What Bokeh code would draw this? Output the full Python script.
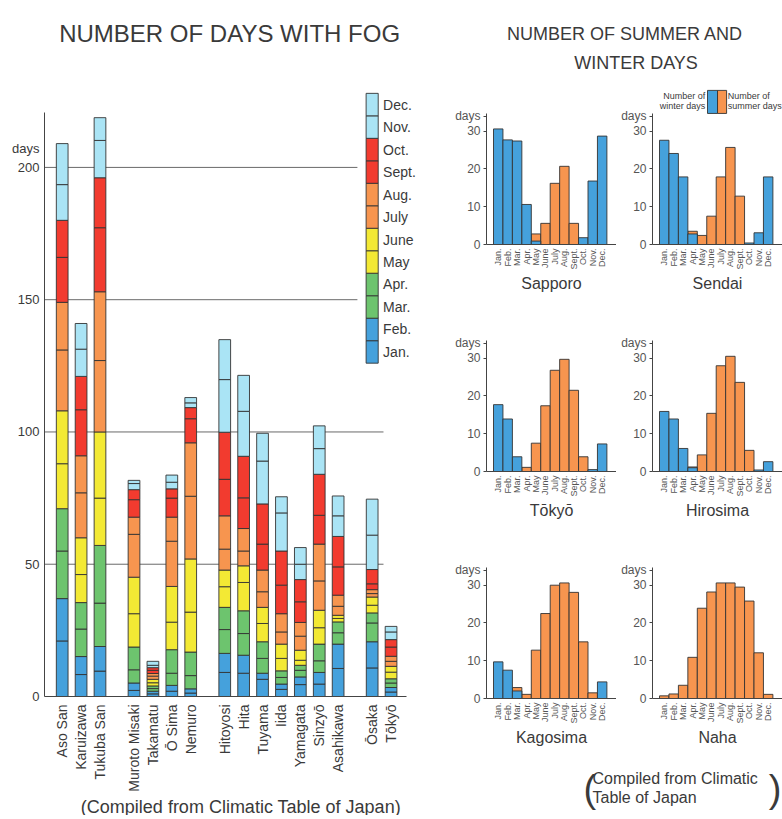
import numpy as np
from bokeh.plotting import figure
from bokeh.models import ColumnDataSource, FixedTicker, Range1d
from bokeh.layouts import row, column
from bokeh.embed import file_html
from bokeh.resources import INLINE
from bokeh.core.properties import value

FONT = "Liberation Sans"
TXT = "#3a3a3a"

# ---------------- data: fog days ----------------
stations = ["Aso San", "Karuizawa", "Tukuba San", "Muroto Misaki", "Takamatu", "Ō Sima",
            "Nemuro", "Hitoyosi", "Hita", "Tuyama", "Iida", "Yamagata", "Sinzyō",
            "Asahikawa", "Ōsaka", "Tōkyō"]
station_group = [0, 0, 0, 1, 1, 1, 1, 2, 2, 2, 2, 2, 2, 2, 3, 3]
month_labels = ["Jan.", "Feb.", "Mar.", "Apr.", "May", "June", "July", "Aug.", "Sept.",
                "Oct.", "Nov.", "Dec."]

fog_jan = [21, 8.3, 9.6, 2.3, 1, 2, 1.3, 9.1, 8.8, 6.5, 2.7, 4.5, 4.7, 10.6, 10.8, 1.7]
fog_feb = [16, 6.8, 9.3, 2.8, 1, 2.2, 1.6, 7.2, 6.8, 2.3, 2, 2.9, 4.4, 9.2, 9.9, 1.7]
fog_mar = [18, 10.4, 16.4, 5, 1, 4.6, 5, 9, 8.2, 5.6, 2.5, 2.5, 4.4, 4.3, 7.1, 1.7]
fog_apr = [16, 10, 21.8, 8.6, 1, 8.9, 8.9, 8.4, 8.6, 6.3, 2.5, 1.9, 6.3, 4.1, 3.8, 1.6]
fog_may = [17, 10.6, 17.9, 12.6, 1.2, 10.4, 15.1, 7.8, 10.7, 6.9, 4.7, 1.9, 6.2, 1.3, 2.9, 2.5]
fog_jun = [20, 13.9, 25, 13.8, 1.3, 13.5, 20.1, 6.3, 6.3, 6.1, 5.4, 3.8, 6.6, 1.2, 3.1, 2.2]
fog_jul = [23, 17, 27, 16.2, 1.2, 17.1, 23.7, 7.9, 5.6, 5.9, 4.6, 5.3, 11.1, 3.4, 1.3, 1.9]
fog_aug = [18, 14, 26, 6.5, 1, 9.1, 20.2, 12.6, 8.5, 8.2, 6.9, 5.2, 13.9, 4.2, 1.5, 1.9]
fog_sep = [17, 17.4, 24.2, 6.6, 1.2, 7.2, 9.1, 13.8, 11.6, 9.8, 10.8, 7.8, 10.9, 10.7, 2.2, 3.5]
fog_oct = [14, 12.6, 18.9, 3.8, 1, 3.5, 4.2, 17.8, 15.7, 15.2, 12.9, 8.4, 15.5, 11.5, 5.4, 2.8]
fog_nov = [13.5, 10.3, 14.1, 2.3, 0.9, 2.5, 1.8, 19.9, 17, 16.2, 14.4, 5.8, 9.7, 7.8, 13, 2.9]
fog_dec = [15.5, 9.7, 8.6, 1.2, 1.5, 2.7, 2, 15.1, 13.6, 10.5, 6.1, 6.3, 8.6, 7.5, 13.6, 2.1]
fog_ticks = [0, 50, 100, 150, 200]
fog_unit_pos = 207  # where the "days" unit label sits on the axis

# ---------------- data: summer / winter days ----------------
sapporo_winter = [30.6, 27.7, 27.4, 10.6, 0.9, 0, 0, 0, 0, 1.8, 16.8, 28.7]
sapporo_summer = [0, 0, 0, 0, 2.8, 5.6, 16.2, 20.7, 5.6, 0, 0, 0]
sendai_winter = [27.6, 24.1, 17.9, 2.8, 0, 0, 0, 0, 0, 0.4, 3.1, 17.9]
sendai_summer = [0, 0, 0, 3.5, 2.4, 7.5, 17.9, 25.7, 12.8, 0, 0, 0]
tokyo_winter = [17.7, 13.9, 3.9, 0, 0, 0, 0, 0, 0, 0, 0.5, 7.3]
tokyo_summer = [0, 0, 0, 1.1, 7.5, 17.4, 26.8, 29.7, 21.5, 3.9, 0, 0]
hirosima_winter = [15.9, 13.9, 6.1, 1.0, 0, 0, 0, 0, 0, 0, 0.4, 2.6]
hirosima_summer = [0, 0, 0, 1.2, 4.4, 15.4, 28, 30.5, 23.6, 5.6, 0, 0]
kagosima_winter = [9.7, 7.5, 2.0, 0, 0, 0, 0, 0, 0, 0, 0, 4.4]
kagosima_summer = [0, 0, 2.9, 1.1, 12.8, 22.5, 30, 30.6, 28.1, 15, 1.5, 0]
naha_winter = [0, 0, 0, 0, 0, 0, 0, 0, 0, 0, 0, 0]
naha_summer = [0.7, 1.2, 3.5, 10.9, 23.9, 28.2, 30.6, 30.6, 29.5, 25.8, 12.1, 1.1]
sw_ticks = [0, 10, 20, 30]
sw_unit_pos = 34

# ---------------- styles ----------------
C_BLUE = "#45a1dc"
C_GREEN = "#6dc46e"
C_YELLOW = "#f3e934"
C_ORANGE = "#f7954f"
C_RED = "#f23b2f"
C_LBLUE = "#aae4f5"
fog_colors = [C_BLUE, C_BLUE, C_GREEN, C_GREEN, C_YELLOW, C_YELLOW,
              C_ORANGE, C_ORANGE, C_RED, C_RED, C_LBLUE, C_LBLUE]
EDGE = "#333333"


def clean(p):
    p.outline_line_color = None
    p.grid.visible = False
    p.background_fill_color = "white"
    p.border_fill_color = "white"


def text_fig(w, h):
    f = figure(width=w, height=h, x_range=Range1d(0, w), y_range=Range1d(h, 0),
               min_border=0, toolbar_location=None, output_backend="svg")
    clean(f)
    f.axis.visible = False
    return f


# ---------------- left chart ----------------
fog_months = [fog_jan, fog_feb, fog_mar, fog_apr, fog_may, fog_jun,
              fog_jul, fog_aug, fog_sep, fog_oct, fog_nov, fog_dec]
keys = ["m%d" % i for i in range(12)]
xpos = [5 * i + 4 * g for i, g in enumerate(station_group)]
src = ColumnDataSource(dict(x=xpos, **{k: v for k, v in zip(keys, fog_months)}))

lt = text_fig(440, 60)
lt.text(x=[228], y=[33], text=["NUMBER  OF  DAYS  WITH  FOG"], text_font=value(FONT),
        text_font_size="24px", text_color=TXT, text_align="center", text_baseline="middle")

p = figure(width=440, height=736, x_range=Range1d(-4.68, 96.64), y_range=Range1d(0, 232.1),
           min_border_left=44, min_border_right=13, min_border_top=22, min_border_bottom=100,
           toolbar_location=None, output_backend="svg")
clean(p)

grid_y = fog_ticks[1:]
grid_end = [85, 85, 78.1, 78.1]
p.segment(x0=[-4.68] * len(grid_y), y0=grid_y, x1=grid_end, y1=grid_y,
          line_color="#6a6a6a", line_width=1)

p.vbar_stack(keys, x="x", width=3.1, fill_color=fog_colors, line_color=EDGE,
             line_width=0.9, source=src)

# legend column
cell = 8.5
leg_top = 228
n = len(month_labels)
leg_bottoms = [leg_top - cell * (n - i) for i in range(n)]
p.quad(left=80.4, right=83.6, bottom=leg_bottoms, top=[b + cell for b in leg_bottoms],
       fill_color=fog_colors, line_color=EDGE, line_width=0.9)
p.text(x=[84.9] * n, y=[b + cell / 2 for b in leg_bottoms], text=month_labels,
       text_font=value(FONT), text_font_size="14px", text_color=TXT,
       text_baseline="middle", text_align="left")

p.yaxis.ticker = FixedTicker(ticks=fog_ticks + [fog_unit_pos])
p.yaxis.major_label_overrides = {fog_unit_pos: "days"}
p.yaxis.bounds = (0, 220.8)
p.yaxis.major_tick_out = 0
p.yaxis.major_tick_in = 0
p.yaxis.minor_tick_out = 0
p.yaxis.minor_tick_in = 0
p.yaxis.major_label_standoff = 5
p.yaxis.major_label_text_font = FONT
p.yaxis.major_label_text_font_size = "13px"
p.yaxis.major_label_text_color = TXT
p.yaxis.axis_line_color = "#444444"

p.xaxis.ticker = FixedTicker(ticks=xpos)
p.xaxis.major_label_overrides = {x: s for x, s in zip(xpos, stations)}
p.xaxis.major_label_orientation = np.pi / 2
p.xaxis.bounds = (-4.68, 91.1)
p.xaxis.major_tick_out = 0
p.xaxis.major_tick_in = 0
p.xaxis.minor_tick_out = 0
p.xaxis.minor_tick_in = 0
p.xaxis.major_label_standoff = 8
p.xaxis.major_label_text_font = FONT
p.xaxis.major_label_text_font_size = "14px"
p.xaxis.major_label_text_color = TXT
p.xaxis.axis_line_color = "#444444"

lc = text_fig(440, 19)
lc.text(x=[240], y=[10], text=["(Compiled  from  Climatic  Table  of  Japan)"],
        text_font=value(FONT), text_font_size="18px", text_color=TXT,
        text_align="center", text_baseline="middle")

left = column(lt, p, lc)

# ---------------- small charts ----------------
KX = 9.45
KY = 3.777
mnum = list(range(1, 13))


def small(name, winter, summer, col, legend=False):
    w = 176 if col == 0 else 166
    mbl = 46 if col == 0 else 36
    fw = w - mbl
    x0 = 0.5 - 7 / KX
    f = figure(width=w, height=227, x_range=Range1d(x0, x0 + fw / KX),
               y_range=Range1d(0, 159 / KY), min_border_left=mbl, min_border_right=0,
               min_border_top=2, min_border_bottom=66, toolbar_location=None,
               output_backend="svg")
    clean(f)
    sx = [m for m, v in zip(mnum, summer) if v > 0]
    sv = [v for v in summer if v > 0]
    wx = [m for m, v in zip(mnum, winter) if v > 0]
    wv = [v for v in winter if v > 0]
    f.vbar(x=sx, top=sv, width=1, fill_color=C_ORANGE, line_color=EDGE, line_width=0.9)
    f.vbar(x=wx, top=wv, width=1, fill_color=C_BLUE, line_color=EDGE, line_width=0.9)

    f.yaxis.ticker = FixedTicker(ticks=sw_ticks + [sw_unit_pos])
    f.yaxis.major_label_overrides = {sw_unit_pos: "days"}
    f.yaxis.bounds = (0, 34.76)
    f.yaxis.major_tick_out = 3
    f.yaxis.major_tick_in = 0
    f.yaxis.minor_tick_out = 0
    f.yaxis.minor_tick_in = 0
    f.yaxis.major_label_standoff = 3
    f.yaxis.major_label_text_font = FONT
    f.yaxis.major_label_text_font_size = "12px"
    f.yaxis.major_label_text_color = "#555555"
    f.yaxis.axis_line_color = "#444444"
    f.yaxis.major_tick_line_color = "#444444"

    f.xaxis.ticker = FixedTicker(ticks=mnum)
    f.xaxis.major_label_overrides = {m: s for m, s in zip(mnum, month_labels)}
    f.xaxis.major_label_orientation = np.pi / 2
    f.xaxis.major_tick_out = 0
    f.xaxis.major_tick_in = 0
    f.xaxis.minor_tick_out = 0
    f.xaxis.minor_tick_in = 0
    f.xaxis.major_label_standoff = 4
    f.xaxis.major_label_text_font = FONT
    f.xaxis.major_label_text_font_size = "9px"
    f.xaxis.major_label_text_color = "#555555"
    f.xaxis.axis_line_color = "#444444"
    f.xaxis.axis_label = name
    f.xaxis.axis_label_standoff = 2
    f.xaxis.axis_label_text_font = FONT
    f.xaxis.axis_label_text_font_size = "16px"
    f.xaxis.axis_label_text_font_style = "normal"
    f.xaxis.axis_label_text_color = TXT

    if legend:
        f.quad(left=[5.58, 6.64], right=[6.64, 7.6], bottom=[34.7, 34.7], top=[40.8, 40.8],
               fill_color=[C_BLUE, C_ORANGE], line_color=EDGE, line_width=0.9)
        f.text(x=[5.35, 5.35], y=[39.4, 36.8], text=["Number of", "winter days"],
               text_font=value(FONT), text_font_size="9px", text_color=TXT,
               text_align="right", text_baseline="middle")
        f.text(x=[7.72, 7.72], y=[39.4, 36.8], text=["Number of", "summer days"],
               text_font=value(FONT), text_font_size="9px", text_color=TXT,
               text_align="left", text_baseline="middle")
    return f


f1 = small("Sapporo", sapporo_winter, sapporo_summer, 0)
f2 = small("Sendai", sendai_winter, sendai_summer, 1, legend=True)
f3 = small("Tōkyō", tokyo_winter, tokyo_summer, 0)
f4 = small("Hirosima", hirosima_winter, hirosima_summer, 1)
f5 = small("Kagosima", kagosima_winter, kagosima_summer, 0)
f6 = small("Naha", naha_winter, naha_summer, 1)

rt = text_fig(342, 83)
rt.text(x=[192, 198], y=[33, 62], text=["NUMBER  OF  SUMMER  AND", "WINTER  DAYS"],
        text_font=value(FONT), text_font_size="18px", text_color=TXT,
        text_align="center", text_baseline="middle")

rc = text_fig(342, 51)
rc.text(x=[152, 152], y=[14, 33], text=["Compiled from Climatic", "Table of Japan"],
        text_font=value(FONT), text_font_size="16px", text_color=TXT,
        text_align="left", text_baseline="middle")
rc.text(x=[143], y=[24], text=["("], text_font=value(FONT), text_font_size="38px",
        text_color=TXT, text_align="left", text_baseline="middle")
rc.text(x=[341], y=[24], text=[")"], text_font=value(FONT), text_font_size="38px",
        text_color=TXT, text_align="right", text_baseline="middle")

right = column(rt, row(f1, f2), row(f3, f4), row(f5, f6), rc)
layout = row(left, right)

open("out.html", "w").write(file_html(layout, INLINE))
